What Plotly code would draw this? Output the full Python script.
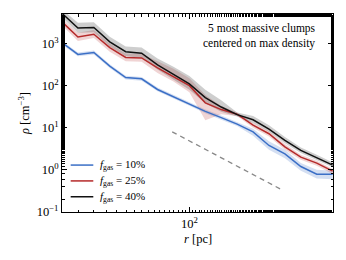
import plotly.graph_objects as go

r_pc = [15.85, 19.95, 25.12, 31.62, 39.81, 50.12, 63.10, 79.43, 100.0, 125.9,
        158.5, 199.5, 251.2, 316.2, 398.1, 501.2, 631.0, 794.3]

rho_40 = [5200, 2340, 2400, 1090, 640, 590, 310, 188, 110, 52, 31, 20.5, 15.5, 9.3, 5.0, 2.9, 1.96, 1.3]
rho_40_hi = [6500, 3100, 3200, 1450, 850, 800, 440, 280, 170, 80, 45, 23, 19, 11.5, 6.0, 3.4, 2.3, 1.5]
rho_40_lo = [4200, 1800, 1850, 850, 500, 460, 240, 140, 80, 38, 24, 18.5, 13, 8, 4.3, 2.5, 1.7, 1.15]

rho_25 = [3250, 1430, 1660, 800, 465, 455, 264, 166, 100, 39, 27, 21, 11.5, 7.2, 3.5, 2.0, 1.45, 0.93]
rho_25_hi = [4000, 1800, 2100, 1000, 580, 570, 380, 250, 150, 60, 33, 23, 13, 8.3, 4.1, 2.3, 1.65, 1.05]
rho_25_lo = [2700, 1150, 1350, 640, 380, 370, 200, 125, 70, 15, 21, 19, 10, 6.2, 3.0, 1.75, 1.25, 0.8]

rho_10 = [1050, 550, 610, 290, 155, 145, 81, 54, 37, 24.5, 17.4, 12.2, 8.0, 3.8, 2.4, 1.2, 0.79, 0.79]
rho_10_hi = [1150, 610, 680, 320, 172, 160, 90, 60, 41, 27, 19.5, 13.5, 9.5, 4.8, 3.0, 1.45, 1.0, 0.95]
rho_10_lo = [950, 500, 550, 262, 140, 131, 73, 49, 33.5, 22, 15.5, 11, 6.5, 3.0, 1.9, 0.95, 0.62, 0.6]

ref_r = [78, 385]
ref_rho = [8.0, 0.33]

labels = ["<i>f</i><sub>gas</sub> = 10%", "<i>f</i><sub>gas</sub> = 25%", "<i>f</i><sub>gas</sub> = 40%"]
ytick_vals = [0.1, 1, 10, 100, 1000]
ytick_text = ["10<sup>−1</sup>", "10<sup>0</sup>", "10<sup>1</sup>", "10<sup>2</sup>", "10<sup>3</sup>"]

colors = ["#3b6fc6", "#b52a2a", "#111111"]
fills = ["rgba(59,111,198,0.22)", "rgba(181,42,42,0.2)", "rgba(60,60,60,0.25)"]
series = [(rho_10, rho_10_lo, rho_10_hi), (rho_25, rho_25_lo, rho_25_hi), (rho_40, rho_40_lo, rho_40_hi)]

SERIF = "Liberation Serif"

fig = go.Figure()
for (y, lo, hi), fcol in zip(series, fills):
    fig.add_trace(go.Scatter(x=r_pc + r_pc[::-1], y=hi + lo[::-1], fill="toself",
                             fillcolor=fcol, line=dict(width=0), mode="lines",
                             showlegend=False, hoverinfo="skip"))
for (y, lo, hi), col, lab in zip(series, colors, labels):
    fig.add_trace(go.Scatter(x=r_pc, y=y, mode="lines", line=dict(color=col, width=1.5),
                             name=lab, showlegend=False))
fig.add_trace(go.Scatter(x=ref_r, y=ref_rho, mode="lines",
                         line=dict(color="#888888", width=1.3, dash="5px,4px"),
                         showlegend=False))

# legend (compact, drawn in paper coordinates)
legend_y = [0.237, 0.157, 0.077]
for yy, col, lab in zip(legend_y, colors, labels):
    fig.add_shape(type="line", xref="paper", yref="paper", x0=0.032, x1=0.1155, y0=yy, y1=yy,
                  line=dict(color=col, width=1.5))
    fig.add_annotation(text=lab, xref="paper", yref="paper", x=0.133, y=yy,
                       xanchor="left", yanchor="middle", showarrow=False,
                       font=dict(family=SERIF, size=11, color="black"))

fig.add_annotation(text="5 most massive clumps<br>centered on max density",
                   xref="paper", yref="paper", x=0.945, y=0.97, xanchor="right", yanchor="top",
                   showarrow=False, align="right",
                   font=dict(family=SERIF, size=11.5, color="black"))

# x-axis title
fig.add_annotation(text="<i>r</i> [pc]", xref="paper", yref="paper", x=0.5, y=-0.135,
                   xanchor="center", yanchor="middle", showarrow=False,
                   font=dict(family=SERIF, size=12.5, color="black"))

axis_common = dict(type="log", ticks="inside", mirror="allticks", showline=True,
                   linecolor="black", linewidth=1, tickcolor="black", showgrid=False,
                   zeroline=False, ticklen=5,
                   tickfont=dict(family=SERIF, size=12.5, color="black"),
                   minor=dict(ticks="inside", ticklen=2.5, tickcolor="black", showgrid=False))

fig.update_xaxes(**axis_common, range=[1.2, 2.902], tickvals=[100], ticktext=["10<sup>2</sup>"])
fig.update_yaxes(**axis_common, range=[-1, 3.7], tickvals=ytick_vals, ticktext=ytick_text,
                 title=dict(text="<i>ρ</i> [cm<sup>−3</sup>]", standoff=4,
                            font=dict(family=SERIF, size=12.5, color="black")))

fig.update_layout(width=330, height=244, margin=dict(l=54, r=5, t=6, b=40),
                  plot_bgcolor="white", paper_bgcolor="white", showlegend=False,
                  font=dict(family=SERIF))

fig.write_html("out.html")
